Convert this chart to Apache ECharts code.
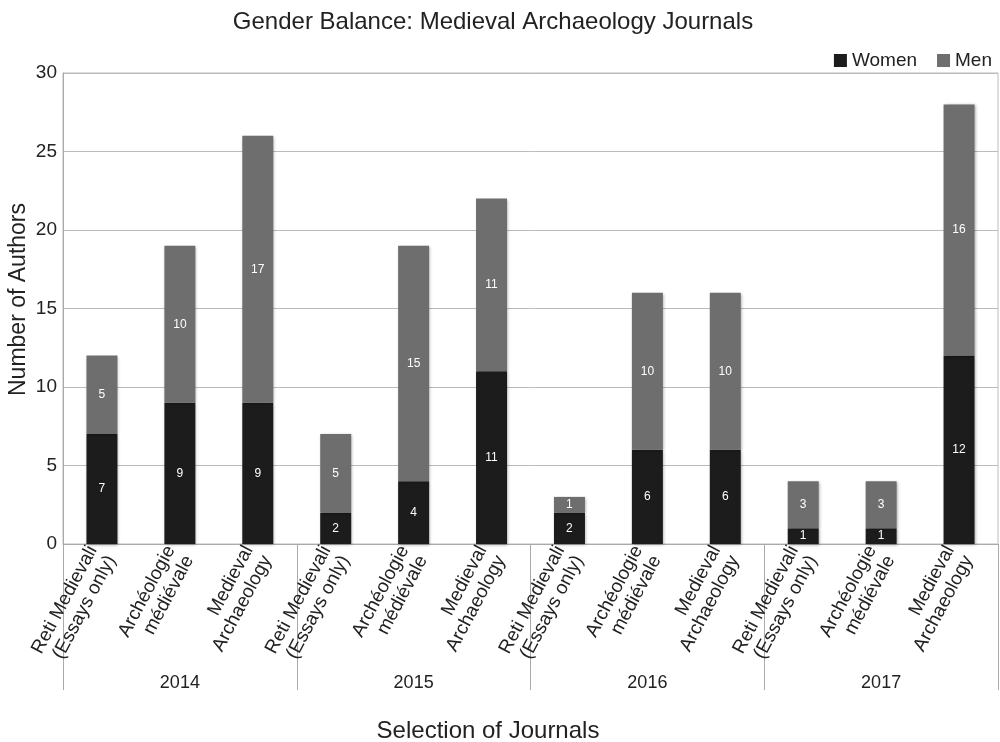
<!DOCTYPE html>
<html><head><meta charset="utf-8">
<script src="https://cdn.jsdelivr.net/npm/echarts@6/dist/echarts.min.js"></script>
<style>html,body{margin:0;padding:0;background:#fff}#c{width:1000px;height:742px}</style>
</head><body><div id="c"></div>
<script>
const journals = ['Reti Medievali\n(Essays only)','Archéologie\nmédiévale','Medieval\nArchaeology',
  'Reti Medievali\n(Essays only)','Archéologie\nmédiévale','Medieval\nArchaeology',
  'Reti Medievali\n(Essays only)','Archéologie\nmédiévale','Medieval\nArchaeology',
  'Reti Medievali\n(Essays only)','Archéologie\nmédiévale','Medieval\nArchaeology'];
const years = ['2014','2015','2016','2017'];
const women = [7,9,9,2,4,11,2,6,6,1,1,12];
const men = [5,10,17,5,15,11,1,10,10,3,3,16];
const yTicks = [0,5,10,15,20,25,30];

const font = 'Liberation Sans, Arial, sans-serif';
const chart = echarts.init(document.getElementById('c'));
const lbl = {show:true, position:'inside', color:'#fff', fontSize:12, fontFamily:font};
chart.setOption({
  animation:false,
  textStyle:{fontFamily:font},
  title:[
    {text:'Gender Balance: Medieval Archaeology Journals', left:488, top:5, textAlign:'center',
     textStyle:{fontSize:24, fontWeight:'normal', color:'#222', fontFamily:font}},
    {text:'Selection of Journals', left:483, top:714, textAlign:'center',
     textStyle:{fontSize:24, fontWeight:'normal', color:'#222', fontFamily:font}}
  ],
  legend:{right:3, top:46, itemWidth:13, itemHeight:13, itemGap:20, icon:'rect',
    textStyle:{fontSize:19, color:'#222', fontFamily:font}, data:['Women','Men']},
  grid:{left:63, right:2, top:73, bottom:198, show:true, borderColor:'#bbb', borderWidth:1,
    containLabel:false, outerBoundsMode:'none'},
  xAxis:[
    {type:'category', data:journals, position:'bottom',
     axisLine:{lineStyle:{color:'#aaa'}}, axisTick:{show:false},
     axisLabel:{rotate:62, fontSize:19, color:'#222', lineHeight:21, margin:8, interval:0, fontFamily:font}},
    {type:'category', data:years, position:'bottom', offset:146,
     axisLine:{show:false},
     axisTick:{show:true, inside:true, length:146, lineStyle:{color:'#aaa'}},
     axisLabel:{inside:true, fontSize:18, color:'#222', margin:-2, fontFamily:font}}
  ],
  yAxis:{type:'value', min:0, max:30, interval:5,
    name:'Number of Authors', nameLocation:'middle', nameGap:33, nameMoveOverlap:false,
    nameTextStyle:{fontSize:23, color:'#222', fontFamily:font, padding:[0,0,0,18]},
    axisLine:{show:true, lineStyle:{color:'#aaa'}}, axisTick:{show:false},
    axisLabel:{fontSize:19, color:'#222', margin:6, fontFamily:font,
      formatter:v=>yTicks.includes(v)?String(v):''},
    splitLine:{lineStyle:{color:'#bbb'}}},
  series:[
    {name:'Women', type:'bar', stack:'a', data:women, barWidth:31, label:lbl,
     itemStyle:{color:'#1c1c1c', shadowBlur:3, shadowColor:'rgba(0,0,0,0.35)', shadowOffsetX:1, shadowOffsetY:1}},
    {name:'Men', type:'bar', stack:'a', data:men, barWidth:31, label:lbl,
     itemStyle:{color:'#6e6e6e', shadowBlur:3, shadowColor:'rgba(0,0,0,0.35)', shadowOffsetX:1, shadowOffsetY:1}}
  ]
});
</script></body></html>
